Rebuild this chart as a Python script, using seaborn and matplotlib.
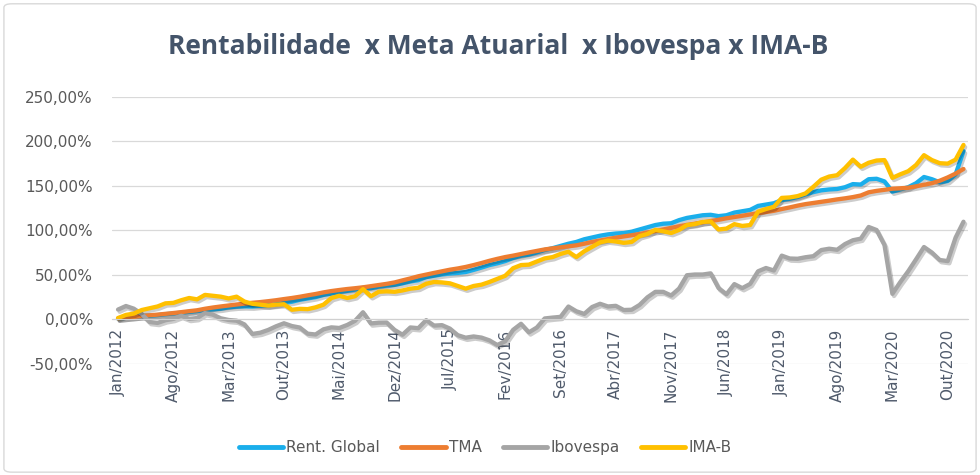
import numpy as np
import pandas as pd
import matplotlib
matplotlib.use("Agg")
import matplotlib.pyplot as plt
import matplotlib.patheffects as pe
from matplotlib.lines import Line2D
from matplotlib.patches import FancyBboxPatch
from matplotlib.ticker import FuncFormatter
import seaborn as sns

titulo = 'Rentabilidade  x Meta Atuarial  x Ibovespa x IMA-B'
series_names = ['Rent. Global', 'TMA', 'Ibovespa', 'IMA-B']
series_colors = ['#1AAEEB', '#ED7D31', '#A5A5A5', '#FFC000']

# rotulos do eixo x (a cada 7 meses, a partir de Jan/2012)
tick_labels = ['Jan/2012', 'Ago/2012', 'Mar/2013', 'Out/2013', 'Mai/2014', 'Dez/2014',
               'Jul/2015', 'Fev/2016', 'Set/2016', 'Abr/2017', 'Nov/2017', 'Jun/2018',
               'Jan/2019', 'Ago/2019', 'Mar/2020', 'Out/2020']

# rentabilidade acumulada mensal (%) Jan/2012 .. Dez/2020
rent_global = [0.8, 1.8, 2.8, 3.6, 4.0, 4.8, 5.8, 6.6, 7.5, 8.4, 9.3, 10.5,
               11.2, 12.0, 13.5, 14.3, 14.6, 14.4, 15.3, 15.8, 17.0, 18.5, 19.8, 22.0,
               23.5, 25.0, 27.5, 29.0, 30.8, 32.0, 33.5, 35.5, 35.0, 36.8, 38.0, 38.8,
               40.5, 42.6, 44.0, 47.5, 49.0, 50.5, 51.5, 52.2, 53.2, 55.6, 58.2, 61.0,
               63.0, 65.5, 69.0, 71.5, 72.8, 75.2, 78.0, 80.0, 82.5, 85.0, 87.0, 90.0,
               92.0, 94.0, 95.5, 96.5, 97.0, 98.5, 101.0, 103.5, 106.0, 107.5, 108.0, 111.5,
               114.0, 115.5, 117.0, 117.5, 116.0, 117.0, 120.0, 121.5, 123.0, 127.5, 129.0, 130.5,
               134.0, 135.5, 137.5, 140.5, 143.0, 145.0, 146.0, 146.5, 148.5, 152.0, 151.5, 157.5,
               158.0, 155.0, 143.5, 146.0, 148.5, 153.0, 160.0, 157.5, 154.0, 155.5, 163.0, 189.0]

tma = [1.0, 1.9, 2.7, 3.7, 4.6, 5.3, 6.2, 7.1, 8.1, 9.2, 10.2, 11.9,
       13.3, 14.5, 15.6, 16.7, 17.7, 18.6, 19.4, 20.4, 21.5, 22.8, 24.0, 25.4,
       27.0, 28.5, 30.3, 31.8, 33.0, 34.1, 35.0, 36.0, 37.3, 38.6, 39.9, 41.5,
       43.8, 46.0, 48.4, 50.3, 52.2, 54.0, 55.8, 57.2, 58.9, 61.0, 63.3, 65.8,
       68.0, 70.0, 71.6, 73.4, 75.2, 76.9, 78.6, 79.8, 80.9, 82.1, 83.2, 85.0,
       87.0, 88.6, 90.2, 91.8, 93.2, 94.5, 96.0, 97.6, 99.2, 101.0, 102.8, 104.6,
       106.2, 107.7, 109.1, 110.5, 111.9, 113.6, 115.0, 116.4, 117.9, 119.3, 120.6, 122.0,
       124.0, 125.8, 127.8, 129.5, 130.8, 132.1, 133.4, 134.8, 136.0, 137.4, 139.2, 142.8,
       144.4, 145.6, 146.8, 147.3, 147.9, 149.5, 151.3, 153.0, 155.8, 159.5, 163.8, 169.0]

ibovespa = [11.0, 15.0, 12.0, 6.0, -3.0, -4.0, -1.0, 0.5, 4.0, 0.5, 1.5, 7.0,
            5.3, 1.2, -0.7, -1.5, -5.7, -16.4, -15.0, -11.9, -7.8, -4.4, -7.5, -9.2,
            -16.1, -17.0, -11.2, -9.0, -9.7, -6.3, -1.6, 8.0, -4.6, -3.7, -3.6, -11.9,
            -17.3, -9.1, -9.9, -0.9, -7.0, -6.5, -10.4, -17.8, -20.6, -19.2, -20.5, -23.6,
            -28.8, -24.6, -11.8, -5.0, -14.6, -9.2, 1.0, 2.0, 2.8, 14.4, 9.1, 6.1,
            13.9, 17.5, 14.5, 15.2, 10.5, 10.8, 16.2, 24.8, 30.9, 30.9, 26.8, 34.6,
            49.6, 50.4, 50.4, 51.7, 35.2, 28.2, 39.6, 35.1, 39.8, 54.0, 57.7, 54.9,
            71.6, 68.4, 68.1, 69.8, 71.0, 77.9, 79.4, 78.2, 84.6, 88.9, 90.7, 103.8,
            100.4, 83.5, 28.7, 41.9, 54.0, 67.5, 81.3, 75.1, 66.7, 65.5, 91.9, 109.7]

ima_b = [1.5, 5.0, 6.5, 10.5, 12.5, 14.5, 18.0, 18.5, 21.5, 24.0, 22.5, 27.5,
         26.5, 25.5, 23.5, 25.5, 20.0, 17.5, 16.5, 15.5, 16.5, 17.0, 10.8, 11.8,
         11.5, 13.5, 16.5, 24.0, 26.5, 24.0, 26.0, 34.0, 26.0, 31.0, 31.5, 31.0,
         32.5, 34.5, 35.5, 40.0, 42.0, 41.5, 40.5, 37.5, 34.5, 37.5, 39.0, 42.0,
         45.5, 49.0, 57.5, 61.0, 61.5, 65.0, 68.5, 70.0, 73.5, 76.0, 70.0, 76.5,
         81.5, 86.5, 88.5, 87.5, 86.0, 87.0, 93.5, 96.0, 100.5, 99.0, 97.0, 100.5,
         106.0, 107.0, 109.5, 110.0, 101.0, 102.0, 107.0, 105.0, 106.0, 121.0, 124.0, 126.5,
         136.5, 137.0, 138.5, 141.5, 149.0, 157.0, 160.5, 162.0, 170.0, 179.5, 171.5, 176.0,
         178.5, 179.0, 159.0, 163.0, 166.5, 173.5, 184.5, 179.0, 175.5, 175.0, 179.5, 196.0]

mes = np.arange(len(tma))
df = pd.DataFrame({'mes': mes, 'Rent. Global': rent_global, 'TMA': tma,
                   'Ibovespa': ibovespa, 'IMA-B': ima_b})
long_df = df.melt(id_vars='mes', var_name='serie', value_name='valor')

sns.set_style('white')
plt.rcParams['font.family'] = ['DejaVu Sans']

fig = plt.figure(figsize=(9.8, 4.75), dpi=100)
ax = fig.add_axes([0.114, 0.234, 0.874, 0.562])

sns.lineplot(data=long_df, x='mes', y='valor', hue='serie', hue_order=series_names,
             palette=series_colors, linewidth=3.1, ax=ax, legend=False)
for ln in ax.lines:
    ln.set_solid_capstyle('round')
    ln.set_path_effects([pe.SimpleLineShadow(offset=(1.2, -1.6), shadow_color='black', alpha=0.2),
                         pe.Normal()])

# eixo x cruzando em 0 (como no Excel)
for s in ['left', 'right', 'top']:
    ax.spines[s].set_visible(False)
ax.spines['bottom'].set_position(('data', 0))
ax.spines['bottom'].set_color('#D0D0D0')

ax.set_xlim(-0.8, len(mes) - 0.4)
ax.set_ylim(-50, 250)
ax.set_yticks(range(-50, 251, 50))
ax.yaxis.set_major_formatter(FuncFormatter(lambda v, p: f'{v:.2f}%'.replace('.', ',')))
ax.grid(axis='y', color='#D9D9D9', linewidth=0.9)
ax.set_axisbelow(True)

ax.set_xticks(mes[::7])
ax.set_xticklabels(tick_labels)
ax.set_xticks(mes, minor=True)

ax.tick_params(axis='x', which='both', direction='out', length=4.5, color='#C8C8C8',
               labelsize=11, labelcolor='#4F5A6B', pad=2)
ax.tick_params(axis='x', which='major', labelrotation=90)
ax.tick_params(axis='y', left=False, labelsize=11, labelcolor='#595959', pad=10)
ax.set_xlabel('')
ax.set_ylabel('')

fig.text(0.508, 0.903, titulo, ha='center', va='center', fontsize=19, fontweight='bold',
         color='#44546A', family=['Open Sans', 'DejaVu Sans'])

handles = [Line2D([], [], color=c, lw=3.5) for c in series_colors]
fig.legend(handles, series_names, loc='center', bbox_to_anchor=(0.495, 0.057), ncol=4,
           frameon=False, fontsize=11, handlelength=2.9, handletextpad=0.2,
           columnspacing=1.4, labelcolor='#595959')

fig.patches.append(FancyBboxPatch((0.004, 0.006), 0.992, 0.986,
                                  boxstyle='round,pad=0,rounding_size=0.008',
                                  transform=fig.transFigure, fill=False,
                                  edgecolor='#D9D9D9', linewidth=1))

fig.savefig('out.png', dpi=100, facecolor='white')
